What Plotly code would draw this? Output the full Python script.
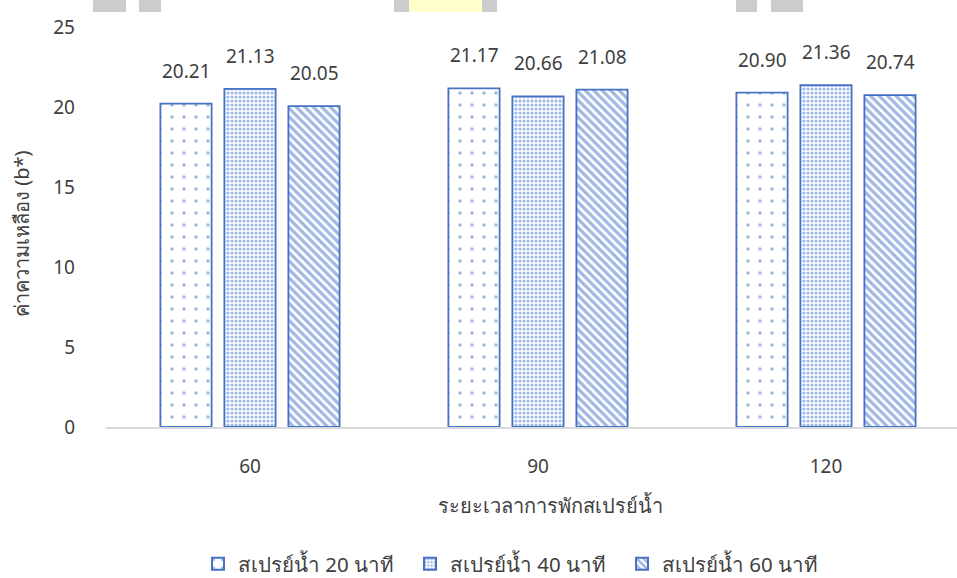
import plotly.graph_objects as go

# Rest period between spray cycles (minutes) on the x axis
categories = ["60", "90", "120"]

# Yellowness (b*) for each spraying duration
series_names = ["สเปรย์น้ำ 20 นาที", "สเปรย์น้ำ 40 นาที", "สเปรย์น้ำ 60 นาที"]
spray_20 = [20.21, 21.17, 20.90]
spray_40 = [21.13, 20.66, 21.36]
spray_60 = [20.05, 21.08, 20.74]

y_ticks = [0, 5, 10, 15, 20, 25]

BLUE = "#4472C4"
FONT = "Noto Sans, DejaVu Sans, sans-serif"
TEXT = "#404040"

W, H = 957, 578
ML, MR, MT, MB = 106, 0, 27, 151
PW = W - ML - MR
PH = H - MT - MB

patterns = [
    dict(shape=".", size=12, solidity=0.07),
    dict(shape=".", size=4, solidity=0.5),
    dict(shape="\\", size=6, solidity=0.55),
]
series_values = [spray_20, spray_40, spray_60]

fig = go.Figure()
for name, vals, pat in zip(series_names, series_values, patterns):
    fig.add_trace(go.Bar(
        x=categories,
        y=vals,
        name=name,
        marker=dict(
            color="white",
            line=dict(color=BLUE, width=1.8),
            pattern=dict(fgcolor=BLUE, bgcolor="white", fillmode="overlay", **pat),
        ),
    ))

# value labels above each bar
bargap = 1 / 3
slot = (1 - bargap) / len(series_values)
annotations = []
for i, vals in enumerate(series_values):
    for j, v in enumerate(vals):
        annotations.append(dict(
            x=j + (i - 1) * slot, y=v, xref="x", yref="y",
            text=f"{v:.2f}", showarrow=False, yshift=33,
            font=dict(family=FONT, size=19, color=TEXT),
        ))

# pixel -> paper helpers (margins are fixed, so these stay exact)
def px_x(p):
    return (p - ML) / PW

def px_y(p):
    return (H - MB - p) / PH

annotations.append(dict(
    x=px_x(550), y=px_y(505), xref="paper", yref="paper",
    xanchor="center", yanchor="middle",
    text="ระยะเวลาการพักสเปรย์น้ำ", showarrow=False,
    font=dict(family=FONT, size=20, color=TEXT),
))
annotations.append(dict(
    x=px_x(21), y=px_y(234), xref="paper", yref="paper",
    xanchor="center", yanchor="middle",
    text="ค่าความเหลือง (b*)", showarrow=False, textangle=-90,
    font=dict(family=FONT, size=20, color=TEXT),
))

# header strip fragments along the top edge
shapes = []
strip = [(93, 126, "#cccccc"), (139, 161, "#cccccc"),
         (394, 409, "#cccccc"), (409, 482, "#ffffcc"), (482, 497, "#cccccc"),
         (736, 757, "#cccccc"), (771, 803, "#cccccc")]
for x0, x1, c in strip:
    shapes.append(dict(type="rect", xref="paper", yref="paper",
                       x0=px_x(x0), x1=px_x(x1), y0=px_y(12), y1=px_y(0),
                       fillcolor=c, line=dict(width=0), layer="above"))

fig.update_layout(
    width=W, height=H,
    margin=dict(l=ML, r=MR, t=MT, b=MB, pad=0, autoexpand=False),
    paper_bgcolor="white", plot_bgcolor="white",
    barmode="group", bargap=bargap, bargroupgap=0.2,
    font=dict(family=FONT, size=19, color=TEXT),
    showlegend=True,
    legend=dict(orientation="h", x=px_x(198), y=px_y(564),
                xanchor="left", yanchor="middle",
                font=dict(family=FONT, size=20.5, color=TEXT),
                itemsizing="constant", traceorder="normal",
                entrywidth=167),
    annotations=annotations,
    shapes=shapes,
)
fig.update_xaxes(
    type="category", range=[-0.5, 2.5 - 13 / 288],
    showline=True, linecolor="#d9d9d9", linewidth=1.5,
    showgrid=False, zeroline=False, ticks="",
    ticklabelstandoff=21,
    tickfont=dict(family=FONT, size=19, color=TEXT),
)
fig.update_yaxes(
    range=[0, 25], tickvals=y_ticks,
    showline=False, showgrid=False, zeroline=False, ticks="",
    ticklabelstandoff=30,
    tickfont=dict(family=FONT, size=19, color=TEXT),
)

fig.write_html("out.html")
